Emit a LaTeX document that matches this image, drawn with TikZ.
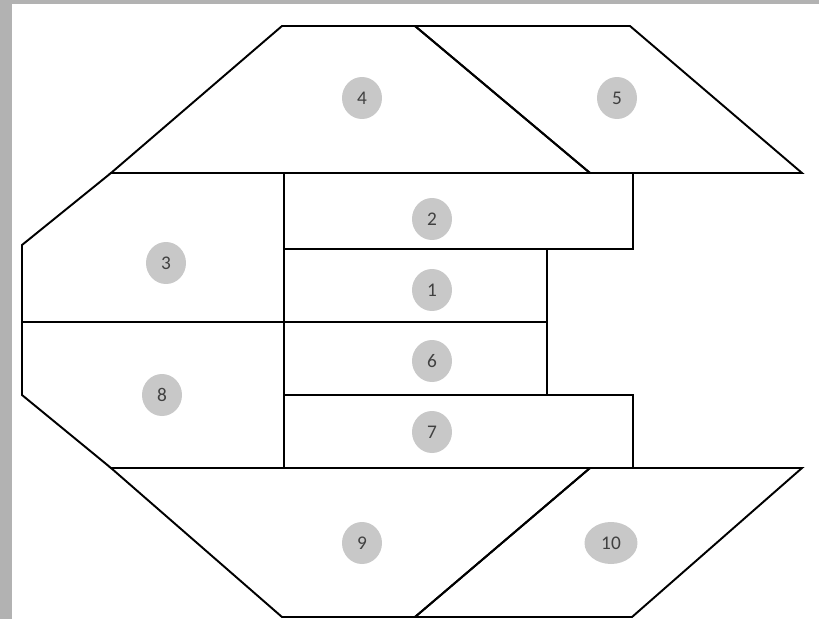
\documentclass[tikz,border=0pt]{standalone}
\usepackage{fontspec}
\setmainfont{Carlito}
\usetikzlibrary{shapes.geometric}
\definecolor{rahmen}{RGB}{178,178,178}
\definecolor{kreis}{RGB}{200,200,200}
\definecolor{ziffer}{RGB}{64,64,64}
\tikzset{
  teil/.style={draw, line width=1.1pt, line join=miter},
  nummer/.style={ellipse, fill=kreis, text=ziffer, inner sep=0pt,
    minimum width=0.8cm, minimum height=0.84cm, font=\fontsize{11}{13}\selectfont},
}

\begin{document}
\begin{tikzpicture}[x=0.02cm, y=-0.02cm]
    % frame of the screenshot
    \fill[rahmen] (0,0) rectangle (819,619);
    \fill[white] (12,4) rectangle (819,619);
    \useasboundingbox (0,0) rectangle (819,619);

    % upper wing
    \draw[teil] (282,26) -- (415,26) -- (590,173) -- (111,173) -- cycle;
    \draw[teil] (415,26) -- (630,26) -- (802,173) -- (590,173) -- cycle;

    % left side
    \draw[teil] (111,173) -- (284,173) -- (284,322) -- (22,322) -- (22,245) -- cycle;
    \draw[teil] (22,322) -- (284,322) -- (284,468) -- (111,468) -- (22,395) -- cycle;

    % middle rows
    \draw[teil] (284,173) rectangle (633,249);
    \draw[teil] (284,249) rectangle (547,322);
    \draw[teil] (284,322) rectangle (547,395);
    \draw[teil] (284,395) rectangle (633,468);

    % lower wing
    \draw[teil] (111,468) -- (590,468) -- (415,617) -- (282,617) -- cycle;
    \draw[teil] (590,468) -- (802,468) -- (632,617) -- (415,617) -- cycle;

    % numbers
    \node[nummer] (n4) at (362,98) {4};
    \node[nummer] (n5) at (617,98) {5};
    \node[nummer] (n2) at (432,219) {2};
    \node[nummer] (n3) at (166,263) {3};
    \node[nummer] (n1) at (432,290) {1};
    \node[nummer] (n6) at (432,361) {6};
    \node[nummer] (n8) at (162,395) {8};
    \node[nummer] (n7) at (432,432) {7};
    \node[nummer] (n9) at (362,543) {9};
    \node[nummer, minimum width=1.06cm] (n10) at (611,543) {10};
\end{tikzpicture}
\end{document}
